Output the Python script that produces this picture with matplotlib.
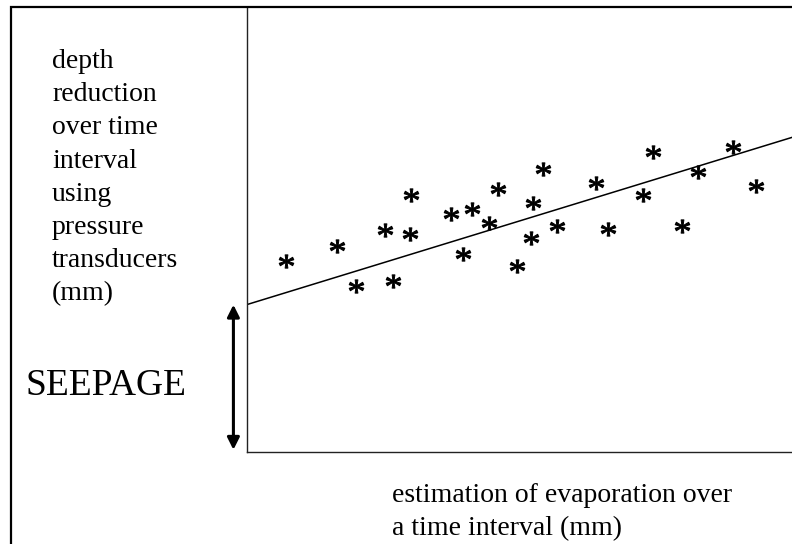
import matplotlib
matplotlib.use("Agg")
import matplotlib.pyplot as plt
import numpy as np
from matplotlib.textpath import TextPath
from matplotlib.font_manager import FontProperties
from matplotlib.path import Path
from matplotlib.lines import Line2D

# ---- data (schematic, arbitrary units 0..10) ----
evap = [0.73, 1.66, 2.01, 2.68, 2.53, 3.02, 3.00, 3.75, 4.13, 3.96, 4.44, 4.61, 4.96,
        5.43, 5.26, 5.21, 5.69, 6.40, 6.62, 7.26, 7.45, 7.99, 8.27, 8.91, 9.34]
depth = [4.29, 4.62, 3.74, 3.85, 5.00, 5.77, 4.91, 5.35, 5.47, 4.45, 5.14, 5.90, 4.17,
         6.37, 5.60, 4.81, 5.07, 6.05, 5.02, 5.77, 6.75, 5.07, 6.30, 6.85, 5.98]
fit_intercept = 3.31
fit_slope = 0.376
ylabel_lines = ["depth", "reduction", "over time", "interval", "using",
                "pressure", "transducers", "(mm)"]
xlabel_lines = ["estimation of evaporation over", "a time interval (mm)"]
seepage_label = "SEEPAGE"

W, H = 792, 544
fig = plt.figure(figsize=(W / 100, H / 100), dpi=100)
serif = "Liberation Serif"

ax_left, ax_bottom, ax_top = 246.5, 452.0, 7.0
ax = fig.add_axes([ax_left / W, 1 - ax_bottom / H, 1 - ax_left / W, (ax_bottom - ax_top) / H])
ax.set_xlim(0, 10)
ax.set_ylim(0, 10)
ax.set_xticks([])
ax.set_yticks([])
for s in ("top", "right"):
    ax.spines[s].set_visible(False)
for s in ("left", "bottom"):
    ax.spines[s].set_linewidth(1.0)
    ax.spines[s].set_color("#222222")

# asterisk marker from font glyph (drop closepoly dummy vertices, centre it)
tp = TextPath((0, 0), "*", size=10, prop=FontProperties(family=serif))
codes = np.array(tp.codes)
v = tp.vertices.copy()
real = codes != Path.CLOSEPOLY
x0, x1 = v[real, 0].min(), v[real, 0].max()
y0, y1 = v[real, 1].min(), v[real, 1].max()
v[:, 0] -= (x0 + x1) / 2
v[:, 1] -= (y0 + y1) / 2
start = 0
for i, c in enumerate(codes):
    if c == Path.MOVETO:
        start = i
    elif c == Path.CLOSEPOLY:
        v[i] = v[start]
star = Path(v, codes)

ax.plot(evap, depth, linestyle="none", marker=star, markersize=10.5,
        color="black", markeredgewidth=0.7)

xs = np.array([0, 10])
ax.plot(xs, fit_intercept + fit_slope * xs, color="black", lw=1.1)

# seepage double arrow
ax.annotate("", xy=(-0.24, fit_intercept), xytext=(-0.24, 0.05),
            arrowprops=dict(arrowstyle="<|-|>", lw=2.2, color="black",
                            mutation_scale=18, shrinkA=0, shrinkB=0),
            annotation_clip=False)

# outer frame (left and top visible)
fig.add_artist(Line2D([11.0 / W, 11.0 / W, 1.0], [0.0, 1 - 6.5 / H, 1 - 6.5 / H],
                      transform=fig.transFigure, color="black", lw=1.6,
                      solid_joinstyle="miter"))

fig.text(52 / W, 1 - 49 / H, "\n".join(ylabel_lines), family=serif, fontsize=20,
         ha="left", va="top", linespacing=1.43)
fig.text(25 / W, 1 - 386 / H, seepage_label, family=serif, fontsize=27,
         ha="left", va="center")
fig.text(392 / W, 1 - 483 / H, "\n".join(xlabel_lines), family=serif, fontsize=20,
         ha="left", va="top", linespacing=1.45)

fig.savefig("out.png", dpi=100)
